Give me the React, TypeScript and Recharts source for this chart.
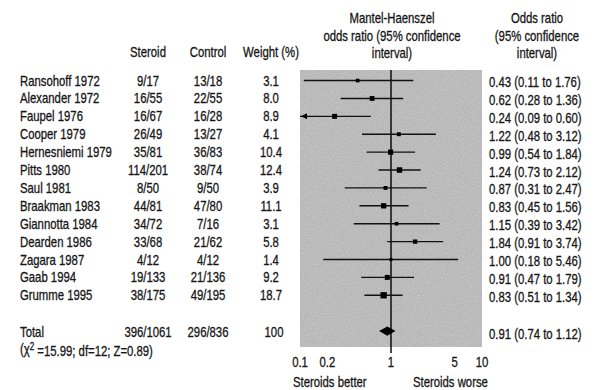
import React from 'react';
import {
  ComposedChart, XAxis, YAxis, Scatter, ReferenceLine, ReferenceArea,
} from 'recharts';

const studies = ['Ransohoff 1972', 'Alexander 1972', 'Faupel 1976', 'Cooper 1979', 'Hernesniemi 1979', 'Pitts 1980', 'Saul 1981', 'Braakman 1983', 'Giannotta 1984', 'Dearden 1986', 'Zagara 1987', 'Gaab 1994', 'Grumme 1995'];
const steroid = ['9/17', '16/55', '16/67', '26/49', '35/81', '114/201', '8/50', '44/81', '34/72', '33/68', '4/12', '19/133', '38/175'];
const control = ['13/18', '22/55', '16/28', '13/27', '36/83', '38/74', '9/50', '47/80', '7/16', '21/62', '4/12', '21/136', '49/195'];
const weight = [3.1, 8.0, 8.9, 4.1, 10.4, 12.4, 3.9, 11.1, 3.1, 5.8, 1.4, 9.2, 18.7];
const oddsRatio = [0.43, 0.62, 0.24, 1.22, 0.99, 1.24, 0.87, 0.83, 1.15, 1.84, 1.0, 0.91, 0.83];
const ciLow = [0.11, 0.28, 0.09, 0.48, 0.54, 0.73, 0.31, 0.45, 0.39, 0.91, 0.18, 0.47, 0.51];
const ciHigh = [1.76, 1.36, 0.6, 3.12, 1.84, 2.12, 2.47, 1.56, 3.42, 3.74, 5.46, 1.79, 1.34];

const totalSteroid = '396/1061';
const totalControl = '296/836';
const totalWeight = '100';
const totalOR = 0.91;
const totalLow = 0.74;
const totalHigh = 1.12;
const heterogeneity = { chi2: '15.99', df: '12', z: '0.89' };

const xTicks = [0.1, 0.2, 1, 5, 10];
const xDomain = [0.1, 10];
const TOTAL_ROW = 14;
const yDomain = [-0.59, 14.89];

const FONT = "'Liberation Sans', Arial, sans-serif";
const FS = 14;
const SX = 0.81;
const INK = '#161616';

const fmt = (v: number) => v.toFixed(2);

const points = studies.map((s, i) => ({ x: oddsRatio[i], y: i, w: weight[i] }));
const arrows = studies
  .map((s, i) => ({ x: xDomain[0], y: i, lo: ciLow[i] }))
  .filter((d) => d.lo < xDomain[0]);

const rowTicks = [...studies.map((_, i) => i), TOTAL_ROW];

// condensed text helper
const T = ({ x, y, anchor = 'start', children }: any) => (
  <text
    transform={`translate(${x} ${y}) scale(${SX} 1)`}
    x={0}
    y={0}
    dy="0.36em"
    textAnchor={anchor}
    fontFamily={FONT}
    fontSize={FS}
    fill={INK}
    stroke={INK}
    strokeWidth={0.3}
  >
    {children}
  </text>
);

const RowTick = (props: any) => {
  const { y, payload } = props;
  const i = payload.value as number;
  if (i === TOTAL_ROW) {
    return (
      <g>
        <T x={20} y={y + 1}>Total</T>
        <T x={148} y={y + 1} anchor="middle">{totalSteroid}</T>
        <T x={208} y={y + 1} anchor="middle">{totalControl}</T>
        <T x={274} y={y + 1} anchor="middle">{totalWeight}</T>
        <T x={489} y={y + 3}>{`${fmt(totalOR)} (${fmt(totalLow)} to ${fmt(totalHigh)})`}</T>
        <T x={20} y={y + 18}>
          (χ<tspan fontSize={10} dy="-0.45em">2</tspan>
          <tspan dy="0.45em">{` =${heterogeneity.chi2}; df=${heterogeneity.df}; Z=${heterogeneity.z})`}</tspan>
        </T>
      </g>
    );
  }
  return (
    <g>
      <T x={20} y={y}>{studies[i]}</T>
      <T x={148} y={y} anchor="middle">{steroid[i]}</T>
      <T x={208} y={y} anchor="middle">{control[i]}</T>
      <T x={271} y={y} anchor="middle">{weight[i].toFixed(1)}</T>
      <T x={489} y={y + 1.5}>{`${fmt(oddsRatio[i])} (${fmt(ciLow[i])} to ${fmt(ciHigh[i])})`}</T>
    </g>
  );
};

const XTick = (props: any) => {
  const { x, y, payload } = props;
  return <T x={x} y={y + 15} anchor="middle">{String(payload.value)}</T>;
};

const SquareShape = (props: any) => {
  const { cx, cy, payload } = props;
  const s = 1.8 + Math.sqrt(payload.w) * 1.05;
  return <rect x={cx - s / 2} y={cy - s / 2} width={s} height={s} fill="#000" />;
};

const ArrowShape = (props: any) => {
  const { cx, cy } = props;
  return <path d={`M${cx + 1},${cy} L${cx + 7},${cy - 3} L${cx + 7},${cy + 3} Z`} fill="#000" />;
};

const DiamondShape = (props: any) => {
  const { x, y, width, height } = props;
  const mx = x + width / 2;
  const my = y + height / 2;
  return <path d={`M${x},${my} L${mx},${y} L${x + width},${my} L${mx},${y + height} Z`} fill="#000" />;
};

const PanelShape = (props: any) => {
  const { x, y, width, height } = props;
  return (
    <g>
      <defs>
        <filter id="grain" x="0" y="0" width="100%" height="100%">
          <feTurbulence type="fractalNoise" baseFrequency="0.9" numOctaves="2" seed="3" result="n" />
          <feColorMatrix in="n" type="matrix" values="0 0 0 0 0  0 0 0 0 0  0 0 0 0 0  0 0 0 -1.2 1.1" />
        </filter>
      </defs>
      <rect x={x} y={y} width={width} height={height} fill="#cacaca" />
      <rect x={x} y={y} width={width} height={height} fill="#000" filter="url(#grain)" opacity={0.14} />
    </g>
  );
};

const Overlay = () => (
  <svg width={595} height={390} style={{ position: 'absolute', left: 0, top: 0, pointerEvents: 'none' }}>
    <T x={148} y={52} anchor="middle">Steroid</T>
    <T x={208} y={52} anchor="middle">Control</T>
    <T x={271} y={52} anchor="middle">Weight (%)</T>
    <T x={392} y={18} anchor="middle">Mantel-Haenszel</T>
    <T x={392} y={36} anchor="middle">odds ratio (95% confidence</T>
    <T x={392} y={53} anchor="middle">interval)</T>
    <T x={537} y={18} anchor="middle">Odds ratio</T>
    <T x={537} y={36} anchor="middle">(95% confidence</T>
    <T x={537} y={53} anchor="middle">interval)</T>
    <T x={293} y={382}>Steroids better</T>
    <T x={413} y={382}>Steroids worse</T>
  </svg>
);

export default function App() {
  return (
    <div style={{ position: 'absolute', left: 0, top: 0, width: 595, height: 390, background: '#fff' }}>
      <ComposedChart
        width={595}
        height={390}
        margin={{ top: 70, right: 113, bottom: 13, left: 0 }}
      >
        <XAxis
          type="number"
          dataKey="x"
          scale="log"
          domain={xDomain}
          ticks={xTicks}
          allowDataOverflow
          axisLine={false}
          tickLine={false}
          tickSize={0}
          tickMargin={0}
          height={30}
          interval={0}
          tick={<XTick />}
        />
        <YAxis
          type="number"
          dataKey="y"
          domain={yDomain}
          reversed
          allowDataOverflow
          ticks={rowTicks}
          interval={0}
          axisLine={false}
          tickLine={false}
          width={300}
          tick={<RowTick />}
        />
        <ReferenceArea x1={xDomain[0]} x2={xDomain[1]} y1={yDomain[0]} y2={yDomain[1]} ifOverflow="visible" shape={<PanelShape />} />
        <ReferenceLine
          segment={[{ x: 1, y: yDomain[0] }, { x: 1, y: yDomain[1] + 0.33 }]}
          stroke="#000"
          strokeWidth={1.4}
          ifOverflow="visible"
        />
        {studies.map((s, i) => (
          <ReferenceLine
            key={s}
            segment={[{ x: Math.max(ciLow[i], xDomain[0]), y: i }, { x: ciHigh[i], y: i }]}
            stroke="#111"
            strokeWidth={1.4}
            ifOverflow="visible"
          />
        ))}
        <ReferenceArea
          x1={totalLow}
          x2={totalHigh}
          y1={TOTAL_ROW - 0.26}
          y2={TOTAL_ROW + 0.26}
          ifOverflow="visible"
          shape={<DiamondShape />}
        />
        <Scatter data={points} isAnimationActive={false} shape={<SquareShape />} />
        <Scatter data={arrows} isAnimationActive={false} shape={<ArrowShape />} />
      </ComposedChart>
      <Overlay />
    </div>
  );
}
